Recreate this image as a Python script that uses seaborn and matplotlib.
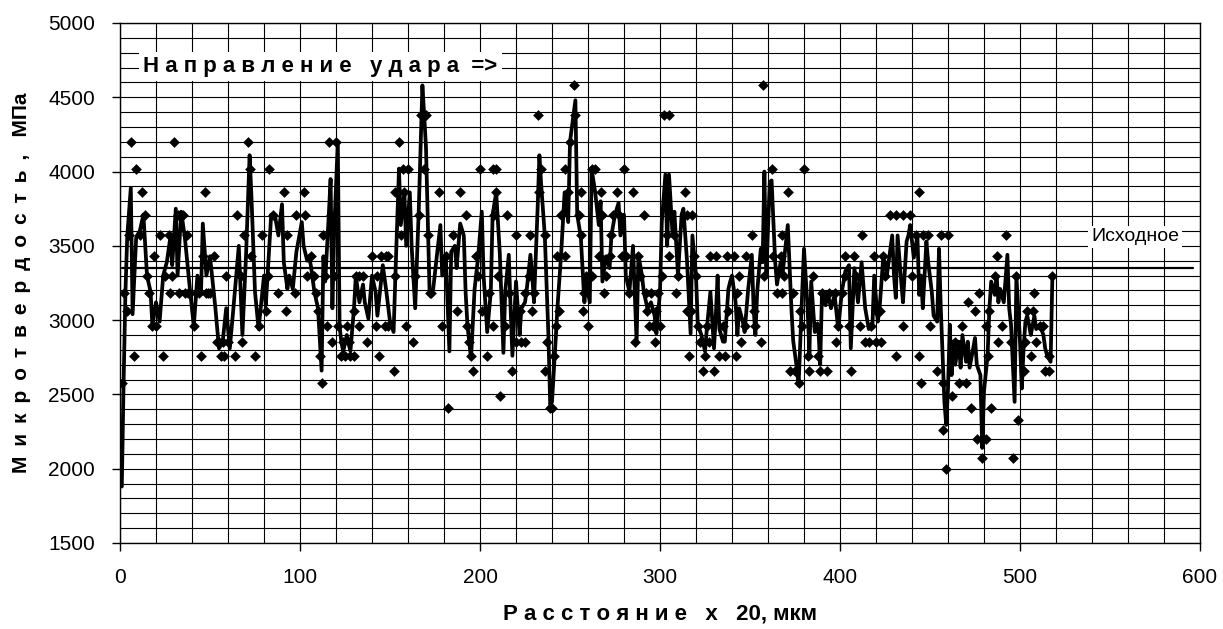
import pandas as pd
import matplotlib
matplotlib.use('Agg')
import matplotlib.pyplot as plt
from matplotlib.ticker import MultipleLocator
import seaborn as sns

# Individual measurements (diamond markers): position x 20 mkm, microhardness MPa
mark_x = [1, 2, 4, 5, 6, 9, 12, 14, 8, 11,
          15, 16, 19, 18, 20, 22, 24, 25, 27, 28,
          30, 29, 32, 33, 35, 36, 37, 38, 41, 42,
          44, 45, 46, 47, 48, 49, 50, 52, 54, 55,
          56, 57, 58, 59, 60, 64, 65, 67, 68, 69,
          71, 72, 73, 75, 77, 79, 81, 83, 82, 85,
          88, 91, 92, 93, 97, 98, 102, 103, 104, 106,
          107, 108, 109, 110, 111, 112, 113, 114, 115, 116,
          117, 118, 119, 120, 121, 123, 124, 125, 126, 127,
          128, 130, 130, 131, 133, 133, 135, 137, 140, 142,
          143, 144, 145, 147, 148, 149, 149, 152, 153, 153,
          155, 156, 157, 158, 159, 160, 163, 164, 166, 167,
          169, 170, 171, 172, 173, 177, 179, 181, 182, 185,
          187, 189, 192, 193, 194, 195, 196, 198, 199, 200,
          201, 204, 205, 207, 207, 208, 209, 209, 210, 211,
          214, 215, 216, 218, 220, 220, 222, 223, 225, 225,
          227, 228, 229, 230, 232, 233, 234, 236, 236, 237,
          239, 240, 241, 242, 243, 244, 245, 247, 247, 249,
          250, 252, 253, 255, 256, 256, 257, 258, 259, 260,
          262, 262, 264, 266, 267, 268, 269, 270, 272, 273,
          274, 276, 277, 279, 280, 281, 283, 285, 286, 288,
          289, 291, 292, 293, 294, 295, 296, 297, 298, 299,
          300, 301, 302, 305, 304, 305, 308, 309, 310, 314,
          315, 315, 316, 318, 317, 319, 320, 321, 322, 324,
          325, 326, 327, 328, 330, 331, 333, 335, 336, 337,
          338, 341, 342, 343, 344, 345, 347, 348, 351, 352,
          353, 356, 357, 358, 362, 363, 365, 367, 368, 368,
          369, 371, 372, 374, 375, 377, 378, 379, 380, 382,
          383, 385, 387, 388, 389, 390, 393, 394, 397, 398,
          399, 401, 403, 403, 405, 406, 408, 409, 411, 412,
          414, 416, 417, 419, 420, 420, 422, 423, 424, 425,
          428, 431, 431, 435, 435, 439, 440, 442, 444, 444,
          445, 446, 449, 450, 454, 456, 457, 457, 459, 460,
          462, 464, 466, 468, 470, 471, 473, 475, 476, 477,
          479, 481, 481, 482, 483, 484, 486, 487, 488, 490,
          492, 495, 496, 498, 499, 502, 503, 504, 506, 507,
          508, 509, 511, 513, 514, 516, 516, 518]
mark_hv = [2580, 3180, 3060, 3570, 4200, 4020, 3860, 3710, 2760, 3570,
           3300, 3180, 3430, 2960, 2960, 3570, 2760, 3300, 3570, 3180,
           4200, 3300, 3710, 3180, 3710, 3180, 3570, 3180, 2960, 3180,
           3180, 2760, 3430, 3860, 3180, 3180, 3180, 3430, 2850, 2850,
           2760, 2850, 2760, 3300, 2850, 2760, 3710, 3300, 2850, 3570,
           4200, 4020, 3430, 2760, 2960, 3570, 3060, 4020, 3300, 3710,
           3180, 3860, 3060, 3570, 3180, 3710, 3860, 3710, 3300, 3430,
           3300, 3300, 3180, 3060, 2760, 2580, 3570, 3300, 2960, 4200,
           3710, 2850, 3300, 4200, 2960, 2760, 2850, 2760, 2960, 2850,
           2760, 2760, 3060, 3300, 2960, 3300, 3300, 2850, 3430, 2960,
           3300, 2760, 3430, 2960, 3430, 2960, 3430, 2660, 3300, 3860,
           4200, 3570, 4020, 3860, 2960, 4020, 2850, 3300, 3710, 4380,
           4020, 4380, 3570, 3180, 3180, 3860, 2960, 3430, 2410, 3570,
           3060, 3860, 3710, 2960, 2850, 2760, 2660, 3430, 3300, 4020,
           3060, 2760, 3180, 2960, 4020, 3710, 3860, 4020, 3300, 2490,
           2960, 3710, 3180, 2660, 3570, 2850, 3060, 2850, 2850, 3180,
           3300, 3570, 3060, 3180, 4380, 3860, 4020, 3570, 2660, 2850,
           2410, 2410, 2760, 2960, 3430, 3060, 3710, 3430, 4020, 3860,
           4200, 4580, 4380, 3710, 3570, 3860, 3060, 3180, 3300, 2960,
           3300, 4020, 4020, 3430, 3860, 3710, 3180, 3300, 3430, 3570,
           3710, 3860, 3710, 3430, 4020, 3430, 3180, 3860, 2850, 3430,
           3300, 3710, 3180, 3060, 2960, 3180, 2960, 2850, 3060, 3180,
           2960, 3300, 4380, 4380, 3570, 3430, 3570, 3180, 3300, 3860,
           3710, 3060, 2760, 3710, 3060, 3430, 3300, 2960, 2850, 2660,
           2760, 2960, 2850, 3430, 2660, 3430, 2760, 2960, 2760, 3430,
           3060, 3430, 2760, 3180, 3300, 2850, 2960, 3430, 3570, 3060,
           2960, 2850, 4580, 3300, 4020, 3430, 3180, 3430, 3180, 3570,
           3300, 3860, 2660, 3180, 2660, 2580, 3060, 2960, 4020, 2760,
           2660, 3300, 2960, 2760, 2660, 3180, 2660, 3180, 3180, 2850,
           2960, 3180, 3430, 3300, 2960, 2660, 3430, 3300, 2960, 3570,
           2850, 2850, 2960, 3430, 3060, 2850, 3060, 2850, 3430, 3300,
           3710, 3710, 2760, 3710, 2960, 3710, 3300, 3570, 3860, 2760,
           2580, 3570, 3570, 2960, 2660, 3570, 2580, 2260, 2000, 3570,
           2490, 2850, 2580, 2960, 2580, 3120, 2410, 3060, 2200, 3180,
           2070, 2200, 2960, 2760, 3060, 2410, 3300, 3430, 2850, 2960,
           3570, 2850, 2070, 3300, 2330, 2660, 2850, 3060, 2760, 3060,
           3180, 2850, 2960, 2960, 2660, 2660, 2760, 3300]

# Solid curve
line_x = [1, 2, 3, 4, 6, 7, 8, 9, 11, 13,
          15, 17, 18, 20, 22, 24, 26, 28, 29, 31,
          32, 34, 36, 39, 41, 43, 45, 46, 48, 50,
          53, 55, 57, 59, 61, 63, 66, 68, 70, 72,
          73, 75, 77, 80, 81, 84, 86, 88, 90, 91,
          93, 94, 96, 98, 101, 102, 104, 105, 106, 108,
          110, 112, 113, 114, 116, 117, 118, 119, 121, 122,
          123, 124, 126, 128, 130, 131, 133, 135, 136, 138,
          140, 142, 143, 146, 148, 150, 152, 153, 155, 156,
          158, 159, 161, 162, 164, 166, 168, 169, 170, 172,
          174, 176, 178, 179, 181, 183, 184, 186, 187, 189,
          191, 192, 193, 195, 197, 199, 201, 202, 204, 206,
          207, 209, 211, 213, 214, 216, 217, 218, 220, 222,
          223, 225, 226, 228, 229, 230, 232, 233, 234, 236,
          238, 239, 240, 242, 243, 244, 245, 247, 249, 250,
          253, 254, 256, 258, 259, 261, 262, 264, 266, 267,
          268, 270, 272, 273, 275, 277, 278, 280, 281, 283,
          285, 287, 288, 290, 291, 293, 295, 297, 298, 300,
          301, 303, 304, 305, 307, 308, 310, 312, 313, 315,
          317, 318, 320, 321, 323, 325, 326, 328, 330, 331,
          332, 333, 335, 336, 338, 339, 340, 342, 343, 344,
          346, 347, 349, 351, 352, 353, 354, 356, 357, 358,
          359, 361, 362, 364, 365, 367, 368, 370, 371, 373,
          374, 376, 377, 379, 380, 382, 383, 384, 386, 388,
          389, 390, 392, 393, 395, 397, 399, 401, 403, 405,
          406, 408, 410, 412, 414, 416, 418, 419, 421, 422,
          424, 425, 426, 427, 429, 430, 431, 432, 434, 435,
          437, 438, 439, 441, 443, 444, 445, 446, 448, 449,
          451, 452, 454, 455, 456, 458, 459, 460, 461, 462,
          463, 464, 466, 467, 468, 470, 471, 472, 474, 475,
          476, 478, 479, 480, 482, 483, 484, 486, 487, 488,
          489, 491, 493, 494, 495, 497, 498, 500, 501, 502,
          503, 504, 505, 506, 508, 509, 511, 513, 514, 515,
          517, 518]
line_hv = [1880, 2580, 3180, 3560, 3890, 3040, 3300, 3560, 3600, 3710,
           3300, 3190, 2960, 3120, 2990, 3300, 3390, 3560, 3370, 3750,
           3300, 3730, 3560, 3190, 2960, 3300, 3180, 3650, 3300, 3430,
           3080, 2810, 2850, 3080, 2810, 3080, 3500, 2900, 3430, 4110,
           3840, 3190, 2940, 3300, 3100, 3710, 3710, 3570, 3780, 3390,
           3210, 3300, 3210, 3460, 3660, 3500, 3400, 3430, 3370, 3190,
           3080, 2660, 3430, 3260, 3710, 3950, 3080, 3600, 4200, 2960,
           2850, 2790, 2900, 2790, 3080, 3300, 3120, 3240, 3120, 3010,
           3300, 3190, 3030, 3370, 3190, 2990, 2920, 3300, 4020, 3640,
           3860, 3500, 3860, 3500, 3080, 3750, 4580, 4380, 4160, 3180,
           3210, 3430, 3640, 3300, 3430, 2790, 3460, 3500, 3350, 3650,
           3570, 3190, 2970, 2740, 3210, 3430, 3730, 3300, 2920, 3190,
           3710, 3860, 3450, 2780, 3190, 3440, 3080, 2760, 3260, 2900,
           3080, 3120, 3210, 3440, 3300, 3120, 3750, 4110, 3910, 3570,
           2900, 2430, 2450, 2860, 3080, 3250, 3430, 3860, 3660, 4200,
           4480, 3710, 3560, 3120, 3260, 3120, 4020, 3860, 3640, 3800,
           3260, 3430, 3350, 3570, 3710, 3790, 3570, 3710, 3300, 3190,
           3500, 2850, 3440, 3300, 3190, 3080, 3120, 3030, 2910, 3190,
           3660, 3980, 3500, 3980, 3570, 3730, 3300, 3710, 3750, 3400,
           2910, 3570, 3300, 2970, 2900, 2790, 2940, 3190, 2810, 3030,
           3300, 2940, 2855, 2855, 3210, 3260, 3300, 3120, 2900, 3080,
           2990, 2920, 3210, 3440, 3080, 2900, 3190, 3480, 3390, 4000,
           3300, 3930, 3940, 3390, 3240, 3390, 3300, 3530, 3640, 3080,
           2860, 2680, 2560, 3190, 3480, 3080, 2770, 3260, 2920, 2940,
           2700, 3190, 3100, 3190, 3080, 3170, 2940, 3190, 3330, 3370,
           2810, 3350, 3120, 3390, 3080, 2940, 2960, 3300, 2990, 3080,
           3420, 3390, 3300, 3390, 3570, 3300, 3150, 3570, 3260, 3120,
           3530, 3570, 3640, 3420, 3570, 3170, 3300, 3080, 3530, 3390,
           3190, 3030, 2990, 3480, 3080, 2450, 2295, 2540, 2970, 2630,
           2855, 2700, 2855, 2680, 2900, 2720, 2855, 2680, 2810, 2880,
           2700, 2630, 2140, 2520, 2765, 3080, 3260, 3170, 3300, 3120,
           3210, 3120, 3440, 3080, 2970, 2450, 3300, 2855, 2540, 2810,
           2990, 3030, 2970, 2900, 3030, 2940, 2970, 2900, 2810, 2765,
           2720, 3300]

# Initial hardness level
base_x = [1, 596]
base_hv = [3350, 3350]

assert len(mark_x) == len(mark_hv)
assert len(line_x) == len(line_hv)

marks = pd.DataFrame({'x': mark_x, 'hv': mark_hv})
curve = pd.DataFrame({'x': line_x, 'hv': line_hv})

sns.set_style('white')
plt.rcParams['font.family'] = ['Liberation Sans', 'DejaVu Sans']
plt.rcParams['text.color'] = 'black'
plt.rcParams['axes.labelcolor'] = 'black'

fig = plt.figure(figsize=(12.23, 6.29), dpi=100)
ax = fig.add_axes([120 / 1223, 86 / 629, 1080 / 1223, 520 / 629])

sns.scatterplot(data=marks, x='x', y='hv', marker='D', s=30, color='black',
                linewidth=0, ax=ax, zorder=3)
sns.lineplot(data=curve, x='x', y='hv', color='black', linewidth=2.7,
             estimator=None, sort=False, ax=ax, zorder=4)
ax.plot(base_x, base_hv, color='black', linewidth=1.6, zorder=2)

ax.set_xlim(0, 600)
ax.set_ylim(1500, 5000)
ax.xaxis.set_major_locator(MultipleLocator(100))
ax.xaxis.set_minor_locator(MultipleLocator(20))
ax.yaxis.set_major_locator(MultipleLocator(500))
ax.yaxis.set_minor_locator(MultipleLocator(100))
ax.grid(which='both', color='black', linewidth=0.8)
ax.set_axisbelow(True)
ax.tick_params(which='major', direction='out', length=6, width=1,
               color='black', labelcolor='black', labelsize=15, pad=12,
               bottom=True, left=True)
ax.tick_params(which='minor', length=0)
for sp in ax.spines.values():
    sp.set_color('black')
    sp.set_linewidth(1)

xlab = ' '.join('Расстояние') + '   х   20, мкм'
ylab = ' \u2009'.join('Микротвердость,') + '   МПа'
ax.set_xlabel(xlab, fontsize=16, fontweight='bold', labelpad=12)
ax.set_ylabel(ylab, fontsize=15, fontweight='bold', labelpad=12)

ax.text(13, 4670, 'Н а п р а в л е н и е   у д а р а  =>', fontsize=16,
        fontweight='bold', va='baseline', zorder=5,
        bbox=dict(facecolor='white', edgecolor='none', pad=3))
ax.text(564, 3560, 'Исходное', fontsize=14, ha='center', va='center',
        zorder=5, bbox=dict(facecolor='white', edgecolor='none', pad=2))

fig.savefig('out.png', dpi=100)
